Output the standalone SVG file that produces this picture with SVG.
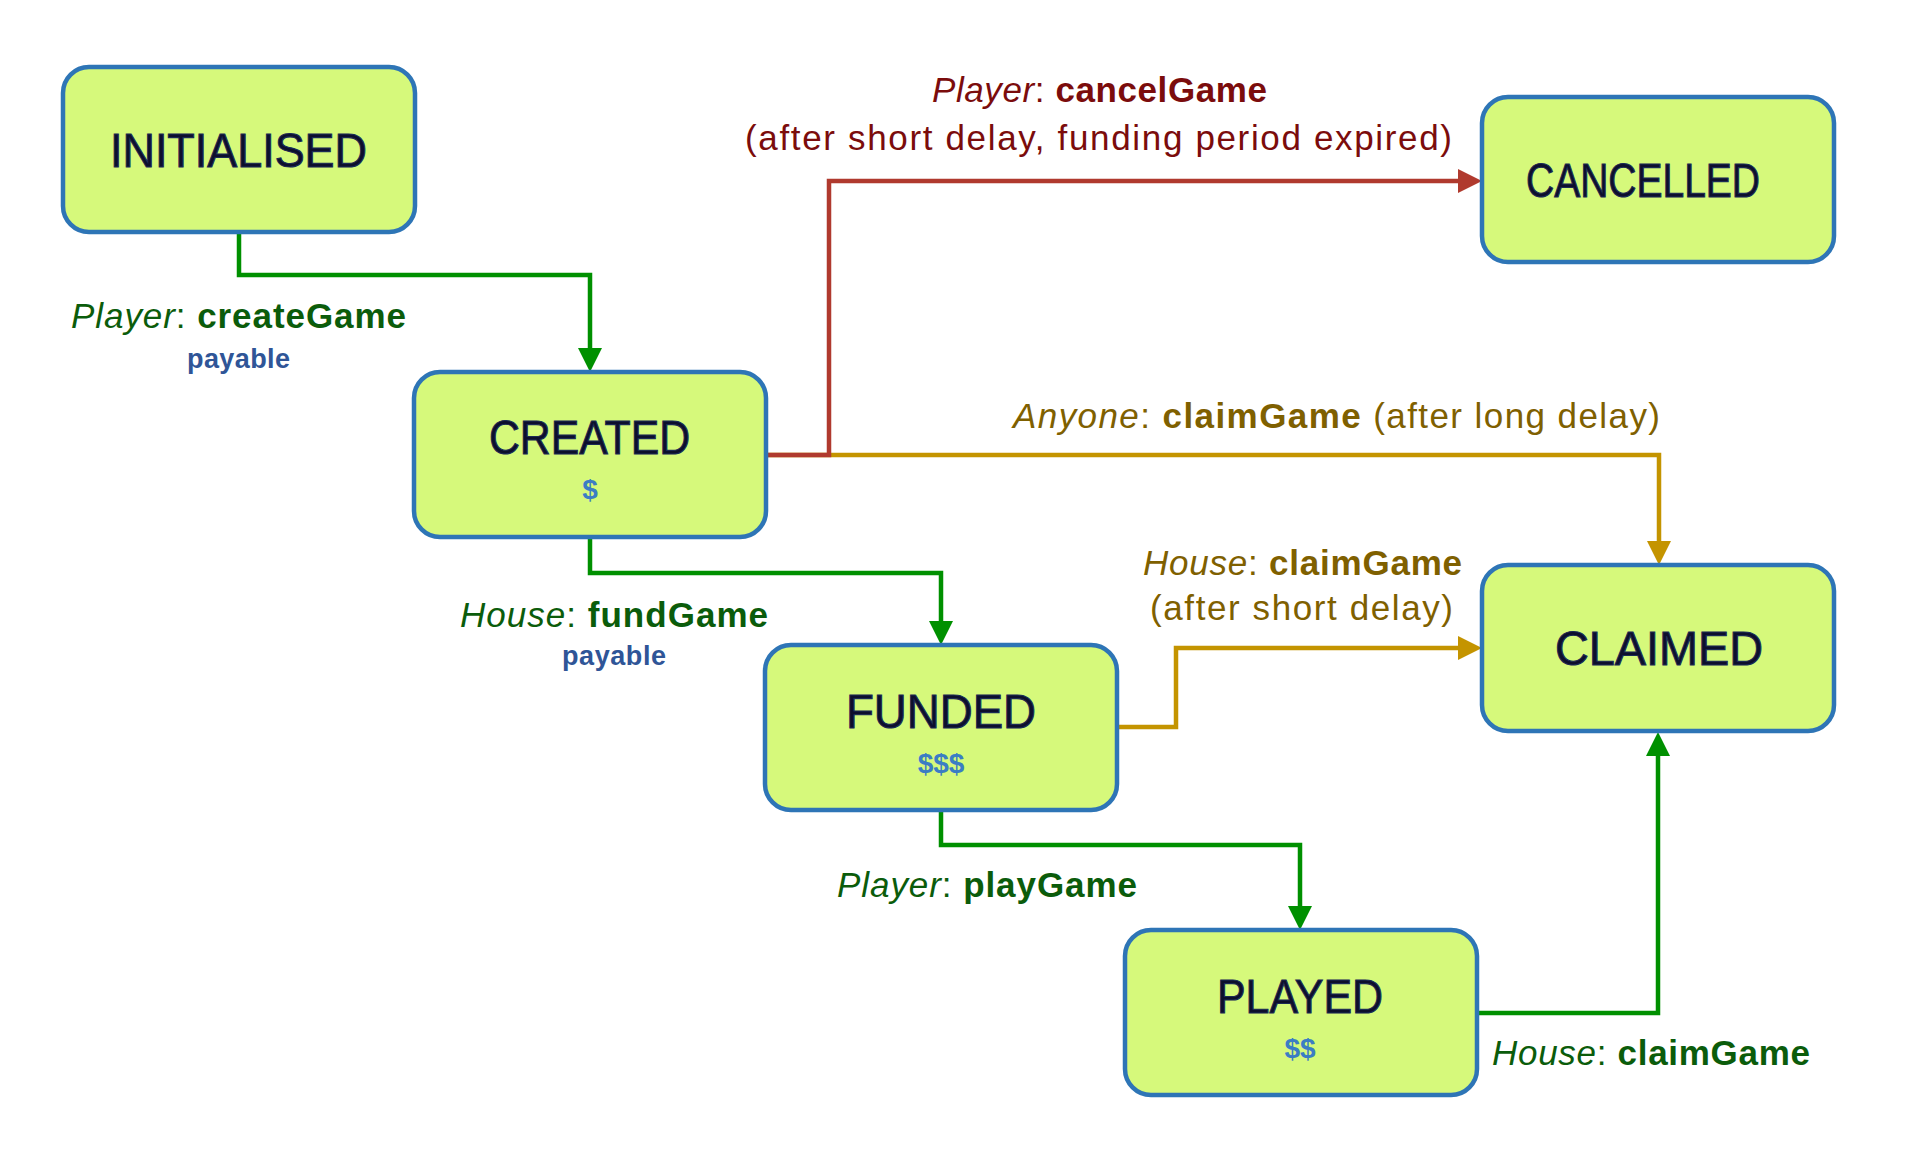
<svg xmlns="http://www.w3.org/2000/svg" width="1920" height="1162" viewBox="0 0 1920 1162">
<style>
.box{fill:#d6f97b;stroke:#2e75b6;stroke-width:4.5}
.title{font-family:"Liberation Sans",Arial,sans-serif;font-size:49px;fill:#0d0f2c;stroke:#1b2a55;stroke-width:1.1}
.money{font-family:"Liberation Sans",Arial,sans-serif;font-size:28px;font-weight:bold;fill:#3b7dc4}
.lbl{font-family:"Liberation Sans",Arial,sans-serif;font-size:35px}
.pay{font-family:"Liberation Sans",Arial,sans-serif;font-size:27px;font-weight:bold;fill:#2f5597}
.g{fill:#0b5c0b}
.r{fill:#7b0c0c}
.y{fill:#7f6000}
.i{font-style:italic}
.b{font-weight:bold}
.cg{fill:none;stroke:#009000;stroke-width:4.5}
.cr{fill:none;stroke:#b03a2e;stroke-width:4.5}
.cy{fill:none;stroke:#c49400;stroke-width:4.5}
</style>
<defs>
<marker id="ag" markerUnits="userSpaceOnUse" markerWidth="24" markerHeight="24" refX="4" refY="12" orient="auto"><path d="M0,0 L24,12 L0,24 z" fill="#009000"/></marker>
<marker id="ar" markerUnits="userSpaceOnUse" markerWidth="24" markerHeight="24" refX="4" refY="12" orient="auto"><path d="M0,0 L24,12 L0,24 z" fill="#b03a2e"/></marker>
<marker id="ay" markerUnits="userSpaceOnUse" markerWidth="24" markerHeight="24" refX="4" refY="12" orient="auto"><path d="M0,0 L24,12 L0,24 z" fill="#c49400"/></marker>
</defs>
<rect width="1920" height="1162" fill="#ffffff"/>

<g id="connectors">
<path class="cg" d="M239 232 V275 H590 V352" marker-end="url(#ag)"/>
<path class="cg" d="M590 537 V573 H941 V625" marker-end="url(#ag)"/>
<path class="cy" d="M766 455 H1659 V545" marker-end="url(#ay)"/>
<path class="cr" d="M766 455 H829 V181 H1462" marker-end="url(#ar)"/>
<path class="cy" d="M1117 727 H1176 V648 H1462" marker-end="url(#ay)"/>
<path class="cg" d="M941 810 V845 H1300 V910" marker-end="url(#ag)"/>
<path class="cg" d="M1477 1013 H1658 V752" marker-end="url(#ag)"/>

<text class="lbl g" x="71" y="328" textLength="335"><tspan class="i">Player</tspan>: <tspan class="b">createGame</tspan></text>
<text class="pay" x="187" y="368" textLength="103">payable</text>
<text class="lbl g" x="460" y="627" textLength="308"><tspan class="i">House</tspan>: <tspan class="b">fundGame</tspan></text>
<text class="pay" x="562" y="665" textLength="104">payable</text>
<text class="lbl r" x="932" y="102" textLength="335"><tspan class="i">Player</tspan>: <tspan class="b">cancelGame</tspan></text>
<text class="lbl r" x="745" y="150" textLength="707">(after short delay, funding period expired)</text>
<text class="lbl y" x="1013" y="428" textLength="647"><tspan class="i">Anyone</tspan>: <tspan class="b">claimGame</tspan> (after long delay)</text>
<text class="lbl y" x="1143" y="575" textLength="319"><tspan class="i">House</tspan>: <tspan class="b">claimGame</tspan></text>
<text class="lbl y" x="1150" y="620" textLength="303">(after short delay)</text>
<text class="lbl g" x="837" y="897" textLength="300"><tspan class="i">Player</tspan>: <tspan class="b">playGame</tspan></text>
<text class="lbl g" x="1492" y="1065" textLength="318"><tspan class="i">House</tspan>: <tspan class="b">claimGame</tspan></text>
</g>

<g id="initialised">
<rect class="box" x="63" y="67" width="352" height="165" rx="26"/>
<text class="title" x="110" y="167" textLength="257" lengthAdjust="spacingAndGlyphs">INITIALISED</text>
</g>
<g id="created">
<rect class="box" x="414" y="372" width="352" height="165" rx="26"/>
<text class="title" x="489" y="454" textLength="201" lengthAdjust="spacingAndGlyphs">CREATED</text>
<text class="money" x="590" y="499" text-anchor="middle">$</text>
</g>
<g id="funded">
<rect class="box" x="765" y="645" width="352" height="165" rx="26"/>
<text class="title" x="846" y="728" textLength="190" lengthAdjust="spacingAndGlyphs">FUNDED</text>
<text class="money" x="941" y="773" text-anchor="middle">$$$</text>
</g>
<g id="played">
<rect class="box" x="1125" y="930" width="352" height="165" rx="26"/>
<text class="title" x="1217" y="1013" textLength="166" lengthAdjust="spacingAndGlyphs">PLAYED</text>
<text class="money" x="1300" y="1058" text-anchor="middle">$$</text>
</g>
<g id="cancelled">
<rect class="box" x="1482" y="97" width="352" height="165" rx="26"/>
<text class="title" x="1526" y="197" textLength="234" lengthAdjust="spacingAndGlyphs">CANCELLED</text>
</g>
<g id="claimed">
<rect class="box" x="1482" y="565" width="352" height="166" rx="26"/>
<text class="title" x="1555" y="665" textLength="208" lengthAdjust="spacingAndGlyphs">CLAIMED</text>
</g>
</svg>
